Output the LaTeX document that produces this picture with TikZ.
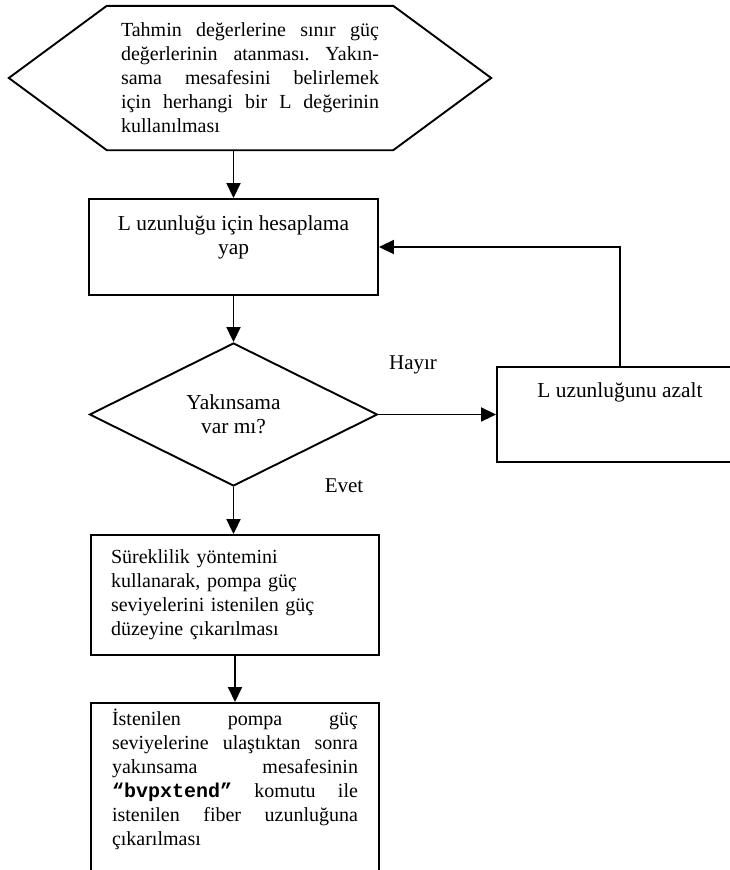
\documentclass[tikz,border=0pt]{standalone}
\usepackage{fontspec}
\setmainfont{Liberation Serif}
\setmonofont{Liberation Mono}
\usetikzlibrary{arrows.meta,shapes.geometric}
\tolerance=10000
\hbadness=10000
\frenchspacing

\begin{document}
\begin{tikzpicture}[
  x=1pt, y=-1pt,
  font=\fontsize{20pt}{24pt}\selectfont,
  every node/.style={inner sep=0pt},
  big/.style={font=\fontsize{21.4pt}{24pt}\selectfont},
  box/.style={draw, rectangle, line width=1.9pt},
  decision/.style={draw, diamond, line width=1.9pt, minimum width=288pt, minimum height=143pt, align=center, big},
  note/.style={draw=none, font=\fontsize{21pt}{24pt}\selectfont},
  flow/.style={draw, line width=1.9pt, -{Triangle[length=15pt,width=14pt]}}
]
\useasboundingbox (0,0) rectangle (730,870);
\clip (0,0) rectangle (730,870);

\node[minimum width=286pt, minimum height=144pt, text width=258pt, align=justify] (init) at (250,78)
  {Tahmin değerlerine sınır güç\linebreak değerlerinin atanması. Yakın-\linebreak sama mesafesini belirlemek\linebreak için herhangi bir L değerinin\linebreak kullanılması};
\draw[line width=1.9pt] (init.north west) -- (init.north east) -- ([xshift=98pt]init.east)
  -- (init.south east) -- (init.south west) -- ([xshift=-98pt]init.west) -- cycle;

\node[box, big, minimum width=289pt, minimum height=96pt, align=center] (calc) at (233.5,247) {L uzunluğu için hesaplama\\yap\\\mbox{}};
\node[decision] (cond) at (233.5,414.5) {Yakınsama\\var mı?};
\node[box, big, minimum width=246pt, minimum height=95pt, align=center] (shrink) at (620,414.5) {L uzunluğunu azalt\\\mbox{}\\\mbox{}};
\node[box, text width=248pt, inner xsep=20pt, minimum height=120pt, align=left] (cont) at (235,595)
  {Süreklilik yöntemini\\kullanarak, pompa güç\\seviyelerini istenilen güç\\düzeyine çıkarılması};
\node[box, text width=246pt, inner xsep=21pt, inner ysep=6pt, anchor=north, align=justify] (ext) at (235,702)
  {İstenilen pompa güç\linebreak seviyelerine ulaştıktan sonra\linebreak yakınsama mesafesinin\linebreak {\ttfamily\bfseries “bvpxtend”} komutu ile\linebreak istenilen fiber uzunluğuna\linebreak çıkarılması\par\mbox{}};

\node[note] (no) at (413,365) {Hayır};
\node[note] (yes) at (344,486) {Evet};

\draw[flow] (init.south -| calc.north) -- (calc.north);
\draw[flow] (calc.south) -- (cond.north);
\draw[flow] (cond.east) -- (shrink.west);
\draw[flow] (shrink.north) |- (calc.east);
\draw[flow] (cond.south) -- (cond.south |- cont.north);
\draw[flow] (cont.south) -- (ext.north);

\end{tikzpicture}
\end{document}
